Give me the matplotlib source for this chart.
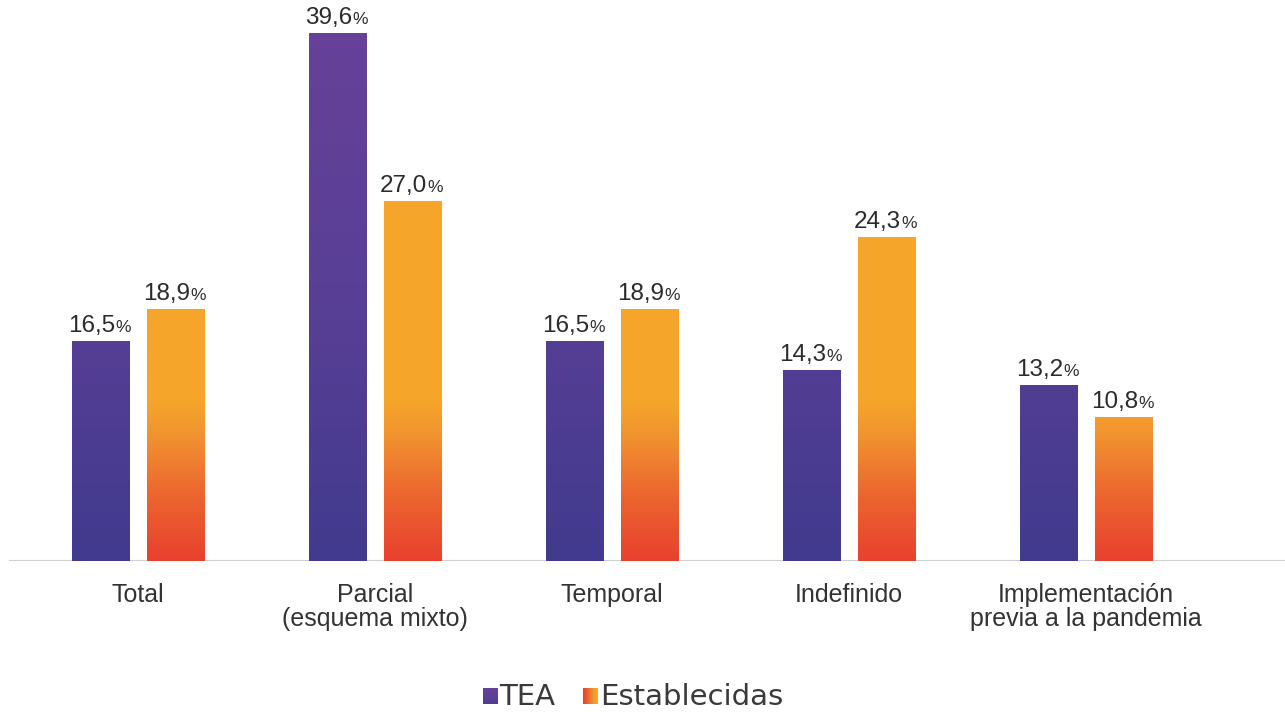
import numpy as np
import matplotlib
matplotlib.use("Agg")
import matplotlib.pyplot as plt
from matplotlib.colors import LinearSegmentedColormap
from matplotlib.patches import Rectangle

categories = ["Total", "Parcial\n(esquema mixto)", "Temporal", "Indefinido",
              "Implementación\nprevia a la pandemia"]
tea = [16.5, 39.6, 16.5, 14.3, 13.2]
establecidas = [18.9, 27.0, 18.9, 24.3, 10.8]
series_names = ["TEA", "Establecidas"]

plt.rcParams['font.family'] = ['Liberation Sans', 'DejaVu Sans']

fig = plt.figure(figsize=(12.85, 7.12), dpi=100)
step = 237.0
x0 = 138.0
ax = fig.add_axes([0, (712 - 561) / 712, 1, 533.3 / 712])
ymax = 40
xlim = (-x0 / step, (1285 - x0) / step)
for s in ax.spines.values():
    s.set_visible(False)
ax.set_xticks([])
ax.set_yticks([])
ax.axhline(0, xmin=10 / 1285, xmax=1, color="#cfcfcf", lw=1.5, zorder=1)

purple_cmap = LinearSegmentedColormap.from_list(
    "p", [(0, "#413a8e"), (0.45, "#573f95"), (1, "#67419a")])
orange_cmap = LinearSegmentedColormap.from_list(
    "o", [(0, "#e8412e"), (0.12, "#ec652f"), (0.24, "#f19530"), (0.30, "#f5a52b"), (1, "#f6a72a")])

grad = np.linspace(0, 1, 400).reshape(-1, 1)
width = 58 / step
offset = 37.5 / step
x = np.arange(len(categories))


def draw_bars(xs, vals, cmap):
    for xi, v in zip(xs, vals):
        rect = Rectangle((xi - width / 2, 0), width, v, facecolor="none",
                         edgecolor="none")
        ax.add_patch(rect)
        im = ax.imshow(grad, cmap=cmap, origin="lower", aspect="auto",
                       extent=(xi - width / 2, xi + width / 2, 0, ymax),
                       zorder=2, interpolation="bilinear")
        im.set_clip_path(rect)
        num = ("%.1f" % v).replace(".", ",")
        t = ax.annotate(num, xy=(xi, v), xytext=(-6.5, 3), textcoords="offset points",
                        ha="center", va="bottom", fontsize=17.5, color="#2b2b2b")
        ax.annotate("%", xy=(1, 0), xycoords=t, xytext=(0.5, 0.21 * 17.5),
                    textcoords="offset points", ha="left", va="baseline",
                    fontsize=12.5, color="#2b2b2b")


draw_bars(x - offset, tea, purple_cmap)
draw_bars(x + offset, establecidas, orange_cmap)
ax.set_xlim(*xlim)
ax.set_ylim(0, ymax)

for xi, c in zip(x, categories):
    ax.annotate(c, xy=(xi, 0), xytext=(0, -16), textcoords="offset points",
                ha="center", va="top", fontsize=18, color="#333333",
                linespacing=0.98)

# legend
lx = [483 / 1285, 583 / 1285]
ly = (712 - 704) / 712
sq_w = 15 / 1285
sq_h = 16 / 712
legend_text_x = [499 / 1285, 600 / 1285]
for i, name in enumerate(series_names):
    lax = fig.add_axes([lx[i], ly, sq_w, sq_h])
    lax.axis("off")
    cm = purple_cmap if i == 0 else orange_cmap
    if i == 0:
        img = np.linspace(1, 0.3, 50).reshape(-1, 1)
        lax.imshow(np.tile(img, (1, 50)), cmap=cm, aspect="auto", vmin=0, vmax=1)
    else:
        img = np.linspace(0, 0.35, 50).reshape(1, -1)
        lax.imshow(np.tile(img, (50, 1)), cmap=cm, aspect="auto", vmin=0, vmax=1)
    fig.text(legend_text_x[i], (712 - 705) / 712, name, fontsize=21,
             family=["DejaVu Sans"], color="#3a3a3a", ha="left", va="baseline")

fig.savefig("out.png", dpi=100, facecolor="white")
